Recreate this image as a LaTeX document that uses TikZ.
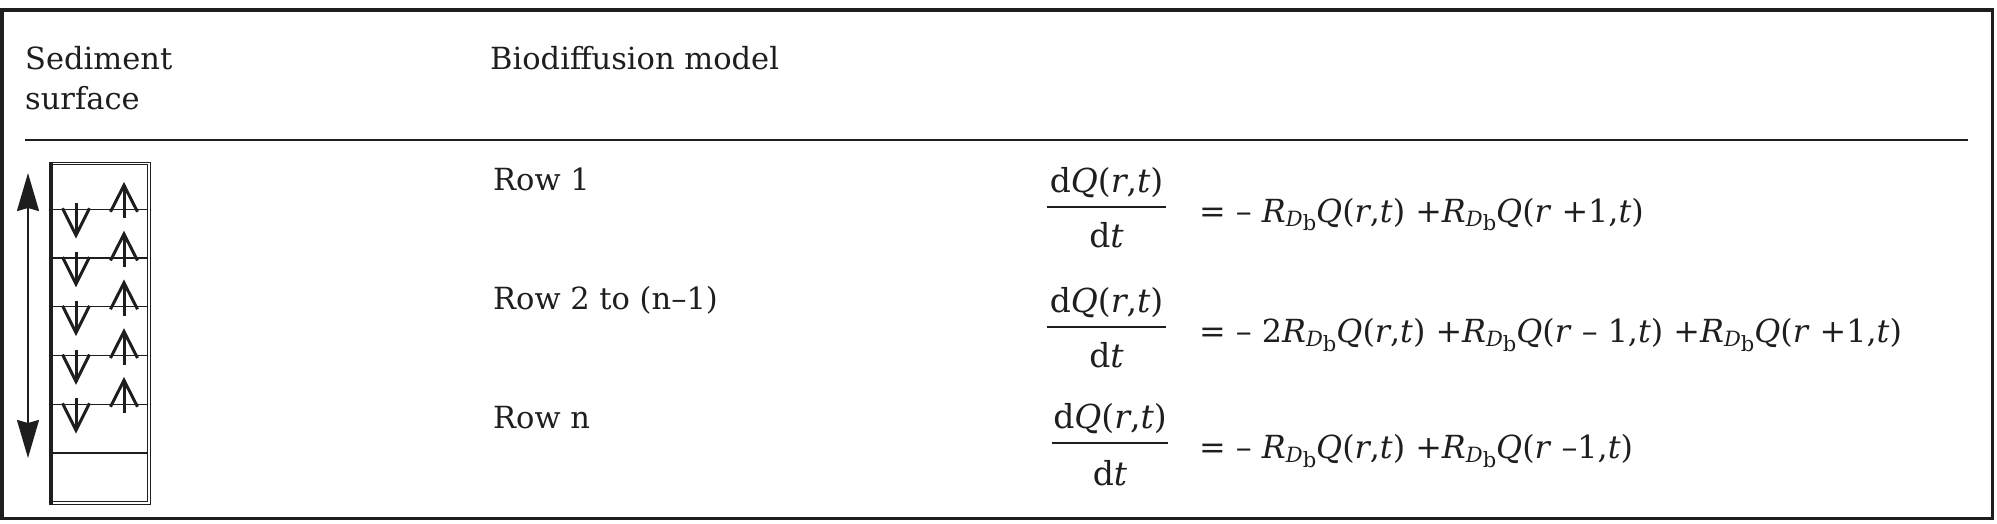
\documentclass[tikz,border=0pt]{standalone}
\usepackage{graphicx}
\usepackage{fontspec}
\setmainfont{DejaVu Serif}
\usetikzlibrary{arrows.meta}
\definecolor{ink}{HTML}{1E1E1E}
\newcommand\Rdb{\textit{R}\raisebox{-4pt}{\fontsize{21}{21}\selectfont\textit{D}\raisebox{-5pt}{b}}}
\newcommand\Qi{\textit{Q}}
\newcommand\ri{\textit{r}}
\newcommand\ti{\textit{t}}
\tikzset{sedtip/.tip={Stealth[length=38pt,width=22pt,inset=3pt]}}
\begin{document}
\begin{tikzpicture}[x=1pt,y=-1pt,
  hdr/.style={font=\fontsize{30.5}{36}\selectfont, text=ink, inner sep=0pt, anchor=base west},
  eqn/.style={font=\fontsize{31.8}{38}\selectfont, text=ink, inner sep=0pt, anchor=base west},
  fracpart/.style={font=\fontsize{33}{40}\selectfont, text=ink, inner sep=0pt, anchor=base},
  thinrule/.style={draw=ink, line width=1.3pt},
  fracbar/.style={draw=ink, line width=2pt},
  arrowline/.style={draw=ink, line width=3pt, miter limit=10}
]
\useasboundingbox (0,0) rectangle (1997,524);
% outer frame
\draw[ink, line width=3.5pt] (1.75,10) rectangle (1992.7,518.3);

% header
\node[hdr] (sed) at (25,70) {Sediment};
\node[hdr] (surf) at (25,110) {surface};
\node[hdr] (bio) at (490,70) {Biodiffusion model};
\coordinate (hl) at (25,140);
\coordinate (hr) at (1968,140);
\draw[thinrule] (hl) -- (hr);

% row labels
\node[hdr] (row1) at (493,190) {Row 1};
\node[hdr] (row2) at (493,309) {Row 2 to (n–1)};
\node[hdr] (row3) at (493,428) {Row n};

% fractions
\node[fracpart] (num1) at (1106.5,192) {d\Qi(\ri,\ti)};
\node[fracpart] (den1) at (1106.5,247) {d\ti};
\coordinate (b1l) at (1047,207); \coordinate (b1r) at (1166,207);
\draw[fracbar] (b1l) -- (b1r);

\node[fracpart] (num2) at (1106.5,312) {d\Qi(\ri,\ti)};
\node[fracpart] (den2) at (1106.5,367) {d\ti};
\coordinate (b2l) at (1047,327); \coordinate (b2r) at (1166,327);
\draw[fracbar] (b2l) -- (b2r);

\node[fracpart] (num3) at (1110,428) {d\Qi(\ri,\ti)};
\node[fracpart] (den3) at (1110,485) {d\ti};
\coordinate (b3l) at (1052,443); \coordinate (b3r) at (1168,443);
\draw[fracbar] (b3l) -- (b3r);

% equations
\node[eqn] (eq1) at (1199,222) {= – \Rdb\Qi(\ri,\ti) +\Rdb\Qi(\ri{} +1,\ti)};
\node[eqn] (eq2) at (1199,342) {= – 2\Rdb\Qi(\ri,\ti) +\Rdb\Qi(\ri{} – 1,\ti) +\Rdb\Qi(\ri{} +1,\ti)};
\node[eqn] (eq3) at (1199,458) {= – \Rdb\Qi(\ri,\ti) +\Rdb\Qi(\ri{} –1,\ti)};

% sediment column
\draw[ink, line width=1pt] (49,162) rectangle (150,504);
\draw[ink, line width=1pt] (51.5,164.5) rectangle (147.5,501.5);
\fill[ink] (49,162) rectangle (53.3,504);
\foreach \k in {0,...,4}{
  \pgfmathsetmacro\yy{209.3+48.75*\k}
  \draw[thinrule] (53,\yy) -- (148,\yy);
  \draw[arrowline] (76,\yy-6) -- (76,\yy+26);
  \draw[arrowline] (62.5,\yy-1) -- (76,\yy+26) -- (89.5,\yy-1);
  \draw[arrowline] (124,\yy+9) -- (124,\yy-24);
  \draw[arrowline] (110.5,\yy+2.5) -- (124,\yy-24) -- (137.5,\yy+2.5);
}
\draw[ink, line width=2pt] (53,453) -- (148,453);

% double arrow
\coordinate (dtop) at (28,173);
\coordinate (dbot) at (28,458);
\draw[ink, line width=2pt, sedtip-sedtip] (dtop) -- (dbot);
\end{tikzpicture}
\end{document}
